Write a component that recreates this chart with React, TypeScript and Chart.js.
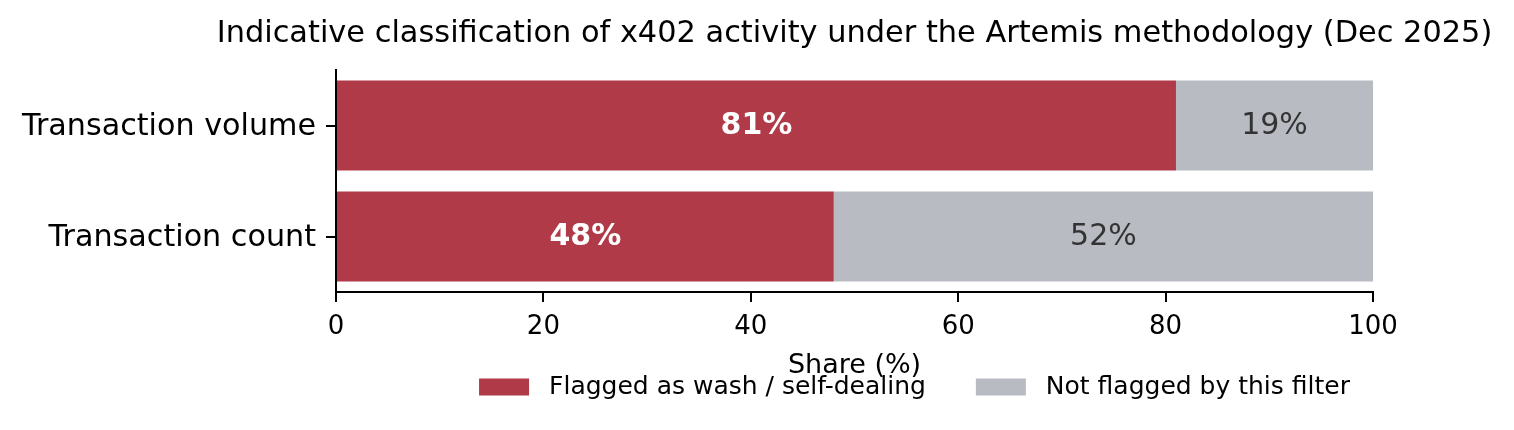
import React, { useEffect, useRef } from "react";
import { Chart, registerables } from "chart.js";

Chart.register(...registerables);

const categories = ["Transaction volume", "Transaction count"];
const flaggedValues = [81, 48];
const notFlaggedValues = [19, 52];
const seriesLabels = ["Flagged as wash / self-dealing", "Not flagged by this filter"];
const xTicks = [0, 20, 40, 60, 80, 100];
const titleText = "Indicative classification of x402 activity under the Artemis methodology (Dec 2025)";
const xAxisTitle = "Share (%)";

const RED = "#B03A48";
const GREY = "#B8BBC2";
const FONT = "'DejaVu Sans', sans-serif";

export default function App() {
  const ref = useRef<HTMLCanvasElement | null>(null);

  useEffect(() => {
    if (!ref.current) return;

    const overlay = {
      id: "overlay",
      afterDraw(chart: any) {
        const ctx = chart.ctx;
        const area = chart.chartArea;
        const cx = (area.left + area.right) / 2;
        ctx.save();
        // Title
        ctx.fillStyle = "#000";
        ctx.font = `30.4px ${FONT}`;
        ctx.textAlign = "center";
        ctx.textBaseline = "middle";
        ctx.fillText(titleText, cx, 26);
        // Axis title
        ctx.font = `27px ${FONT}`;
        ctx.fillText(xAxisTitle, cx, 358);
        // Bar labels
        chart.data.datasets.forEach((ds: any, di: number) => {
          const meta = chart.getDatasetMeta(di);
          meta.data.forEach((el: any, i: number) => {
            const v = ds.data[i];
            const x = (el.x + el.base) / 2;
            if (di === 0) {
              ctx.font = `bold 30px ${FONT}`;
              ctx.fillStyle = "#FFFFFF";
            } else {
              ctx.font = `30px ${FONT}`;
              ctx.fillStyle = "#333333";
            }
            ctx.textAlign = "center";
            ctx.textBaseline = "middle";
            ctx.fillText(`${v}%`, x, el.y + 1);
          });
        });
        // Legend
        ctx.font = `25px ${FONT}`;
        const boxW = 50;
        const boxH = 17;
        const gap = 20;
        const itemGap = 50;
        const widths = seriesLabels.map((l) => ctx.measureText(l).width);
        const total = widths.reduce((a, w) => a + boxW + gap + w, 0) + itemGap * (seriesLabels.length - 1);
        let lx = cx + 60 - total / 2;
        const ly = 379;
        const colors = [RED, GREY];
        seriesLabels.forEach((l, i) => {
          ctx.fillStyle = colors[i];
          ctx.fillRect(lx, ly - boxH / 2, boxW, boxH);
          ctx.fillStyle = "#000";
          ctx.textAlign = "left";
          ctx.textBaseline = "middle";
          ctx.fillText(l, lx + boxW + gap, ly);
          lx += boxW + gap + widths[i] + itemGap;
        });
        ctx.restore();
      },
    };

    const chart = new Chart(ref.current, {
      type: "bar",
      data: {
        labels: categories,
        datasets: [
          { label: seriesLabels[0], data: flaggedValues, backgroundColor: RED, borderWidth: 0 },
          { label: seriesLabels[1], data: notFlaggedValues, backgroundColor: GREY, borderWidth: 0 },
        ],
      },
      options: {
        indexAxis: "y",
        animation: false,
        responsive: false,
        maintainAspectRatio: false,
        layout: { padding: { left: 0, right: 133, top: 62, bottom: 0 } },
        plugins: {
          legend: { display: false },
          title: { display: false },
          tooltip: { enabled: false },
        },
        scales: {
          x: {
            stacked: true,
            min: 0,
            max: 100,
            afterBuildTicks: (scale: any) => {
              scale.ticks = xTicks.map((v) => ({ value: v }));
            },
            afterFit: (scale: any) => {
              scale.height = 130;
            },
            grid: {
              drawOnChartArea: false,
              drawTicks: true,
              tickLength: 10,
              color: "#000",
              lineWidth: 2,
            },
            border: { display: true, color: "#000", width: 2 },
            ticks: {
              color: "#000",
              font: { family: FONT, size: 26 },
              padding: 10,
              maxRotation: 0,
            },
          },
          y: {
            stacked: true,
            afterFit: (scale: any) => {
              scale.width = 328;
            },
            grid: {
              offset: false,
              drawOnChartArea: false,
              drawTicks: true,
              tickLength: 10,
              color: "#000",
              lineWidth: 2,
            },
            border: { display: true, color: "#000", width: 2 },
            ticks: {
              color: "#000",
              font: { family: FONT, size: 30.2 },
              padding: 10,
              labelOffset: 2,
            },
          },
        },
        datasets: {
          bar: { barPercentage: 0.81, categoryPercentage: 1 },
        },
      } as any,
      plugins: [overlay],
    });
    return () => chart.destroy();
  }, []);

  return (
    <div style={{ width: 1498, height: 414 }}>
      <canvas ref={ref} width={1498} height={414} style={{ width: 1498, height: 414 }} />
    </div>
  );
}
